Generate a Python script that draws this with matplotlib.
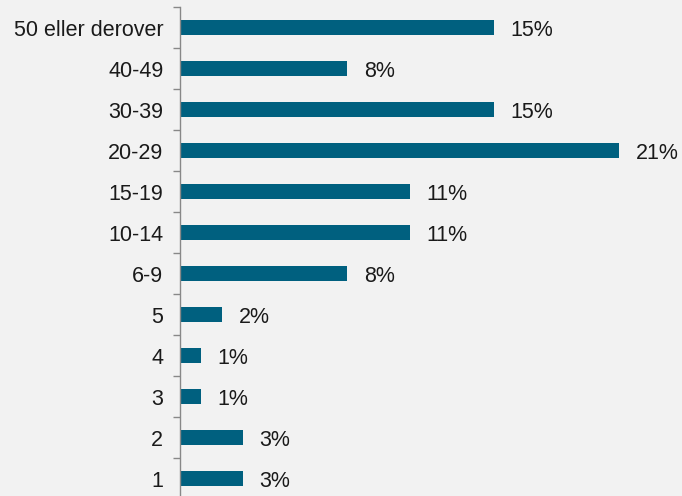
import matplotlib
matplotlib.use("Agg")
import matplotlib.pyplot as plt
import numpy as np

categories = ["50 eller derover", "40-49", "30-39", "20-29", "15-19", "10-14", "6-9", "5", "4", "3", "2", "1"]
values = [15, 8, 15, 21, 11, 11, 8, 2, 1, 1, 3, 3]
labels = ["15%", "8%", "15%", "21%", "11%", "11%", "8%", "2%", "1%", "1%", "3%", "3%"]

plt.rcParams['font.family'] = ['Liberation Sans', 'DejaVu Sans']
W, H = 682, 496
fig = plt.figure(figsize=(W/100, H/100), dpi=100, facecolor="#f2f2f2")
ax = fig.add_axes([180/W, -3/H, 1 - 180/W, 492/H])
ax.set_facecolor("#f2f2f2")

y = np.arange(len(categories))
ax.barh(y, values, height=0.39, color="#00607f")
ax.set_ylim(len(categories) - 0.5, -0.5)
ax.set_xlim(0, 24)

for yi, v, lab in zip(y, values, labels):
    ax.text(v + 0.8, yi, lab, va="center_baseline", ha="left", fontsize=15.5, color="#1a1a1a")

ax.set_yticks(y)
ax.set_yticklabels(categories, fontsize=15.5, color="#1a1a1a", va="center_baseline")
ax.tick_params(axis="y", which="major", length=0, pad=12)
ax.set_yticks(np.arange(len(categories) + 1) - 0.5, minor=True)
ax.tick_params(axis="y", which="minor", length=5, color="#888888", width=1)
ax.set_xticks([])
for s in ["top", "right", "bottom"]:
    ax.spines[s].set_visible(False)
ax.spines["left"].set_color("#888888")
ax.spines["left"].set_linewidth(1)

fig.savefig("out.png", dpi=100, facecolor=fig.get_facecolor())
